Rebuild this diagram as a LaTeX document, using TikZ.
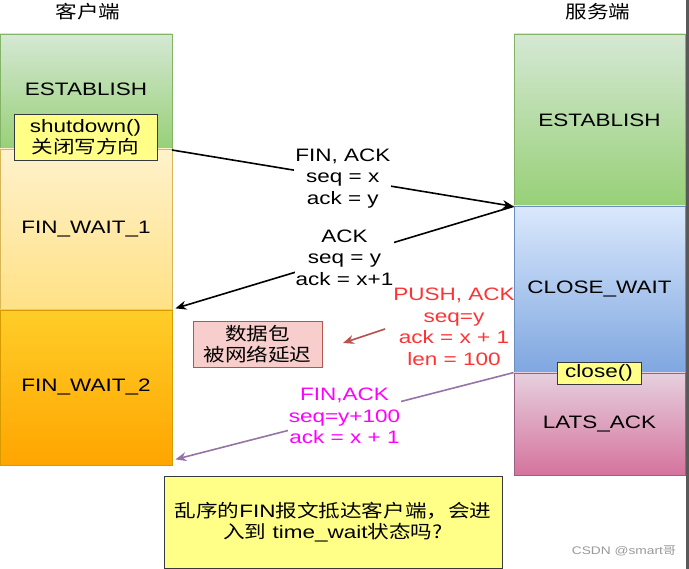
\documentclass[tikz,border=0pt]{standalone}
\usepackage{fontspec}
\setmainfont{Liberation Sans}[FakeStretch=1.25]
\newfontfamily\cjk{Noto Sans CJK SC}[FakeStretch=1.2]
\usepackage{xcolor}
\usetikzlibrary{arrows.meta, positioning, calc}

\definecolor{grnTop}{HTML}{D5E8D4}
\definecolor{grnBot}{HTML}{97D077}
\definecolor{grnLine}{HTML}{82B366}
\definecolor{ylwTop}{HTML}{FFF2CC}
\definecolor{ylwBot}{HTML}{FFD966}
\definecolor{ylwLine}{HTML}{D6B656}
\definecolor{orgTop}{HTML}{FFCD28}
\definecolor{orgBot}{HTML}{FFA500}
\definecolor{orgLine}{HTML}{D79B00}
\definecolor{bluTop}{HTML}{DAE8FC}
\definecolor{bluBot}{HTML}{7EA6E0}
\definecolor{bluLine}{HTML}{6C8EBF}
\definecolor{pnkTop}{HTML}{E6D0DE}
\definecolor{pnkBot}{HTML}{D5739D}
\definecolor{pnkLine}{HTML}{996185}
\definecolor{noteFill}{HTML}{FFFF88}
\definecolor{noteLine}{HTML}{36393D}
\definecolor{delayFill}{HTML}{F8CECC}
\definecolor{delayLine}{HTML}{B85450}
\definecolor{pushRed}{HTML}{FF3333}
\definecolor{finPink}{HTML}{FF00FF}
\definecolor{finLine}{HTML}{9673A6}

\begin{document}
\begin{tikzpicture}[
    x=1pt, y=-1pt,
    font=\fontsize{18}{21.5}\selectfont,
    state/.style={rectangle, draw, line width=0.8pt, inner sep=0pt},
    note/.style={rectangle, draw=noteLine, fill=noteFill, line width=0.8pt, inner sep=0pt, align=center},
    msg/.style={fill=white, align=center, inner sep=1pt},
    arrow/.style={-{Stealth[length=11pt, width=9pt]}, line width=1.6pt},
    title/.style={font=\cjk\fontsize{18}{21}\selectfont}
]
\useasboundingbox (0,0) rectangle (689,569);

% Titles
\node[title] (client) at (88,12) {客户端};
\node[title] (server) at (598,12) {服务端};

% Delayed packet text (under the server column)
\node[align=center, text=pushRed] (push) at (454,327) {PUSH, ACK\\seq=y\\ack = x + 1\\len = 100};

% Client states
\node[state, top color=grnTop, bottom color=grnBot, draw=grnLine, minimum width=172, minimum height=115] (cest) at (86,91.5) {};
\node at (86,89) {ESTABLISH};
\node[state, top color=ylwTop, bottom color=ylwBot!70!ylwTop, draw=ylwLine, minimum width=172, minimum height=161] (fw1) at (86,229.5) {FIN\_WAIT\_1};
\node[state, top color=orgTop, bottom color=orgBot, draw=orgLine, minimum width=172, minimum height=155] (fw2) at (86,387.5) {FIN\_WAIT\_2};

% Server states
\node[state, top color=grnTop, bottom color=grnBot, draw=grnLine, minimum width=171, minimum height=172] (sest) at (599.5,120) {ESTABLISH};
\node[state, top color=bluTop, bottom color=bluBot, draw=bluLine, minimum width=171, minimum height=167] (cwait) at (599.5,289.5) {CLOSE\_WAIT};
\node[state, top color=pnkTop, bottom color=pnkBot, draw=pnkLine, minimum width=171, minimum height=102] (lack) at (599.5,424) {LATS\_ACK};

% Notes
\node[note, minimum width=143, minimum height=46] (shut) at (85.5,137) {shutdown()\\{\cjk 关闭写方向}};
\node[note, minimum width=84, minimum height=22] (close) at (599,373) {close()};
\node[note, draw=delayLine, fill=delayFill, minimum width=129, minimum height=46] (delay) at (257.5,344) {{\cjk 数据包}\\{\cjk 被网络延迟}};
\node[note, minimum width=338, minimum height=92] (quest) at (333,522) {{\cjk 乱序的}FIN{\cjk 报文抵达客户端，会进}\\{\cjk 入到} time\_wait{\cjk 状态吗?}};

% Messages
\draw[arrow] (172,150) -- (sest.south west)
    node[msg, midway] (finack) {FIN, ACK\\seq = x\\ack = y};
\draw[arrow] (sest.south west) -- ([xshift=3pt, yshift=2pt]fw1.south east)
    node[msg, midway] (ack) {ACK\\seq = y\\ack = x+1};
\draw[arrow, draw=finLine] (lack.north west) -- ([xshift=3pt, yshift=6pt]fw2.south east)
    node[msg, midway, text=finPink] (fin) {FIN,ACK\\seq=y+100\\ack = x + 1};

% Delayed packet arrow
\coordinate (lost) at (343,343);
\draw[arrow, draw=delayLine] (385,329) -- (lost);

% Watermark and frame
\node[text=gray!80, font=\fontsize{11}{13}\selectfont] (mark) at (624,551) {CSDN @smart{\cjk 哥}};
\fill[gray!70!black] (686,0) rectangle (689,569);
\end{tikzpicture}
\end{document}
